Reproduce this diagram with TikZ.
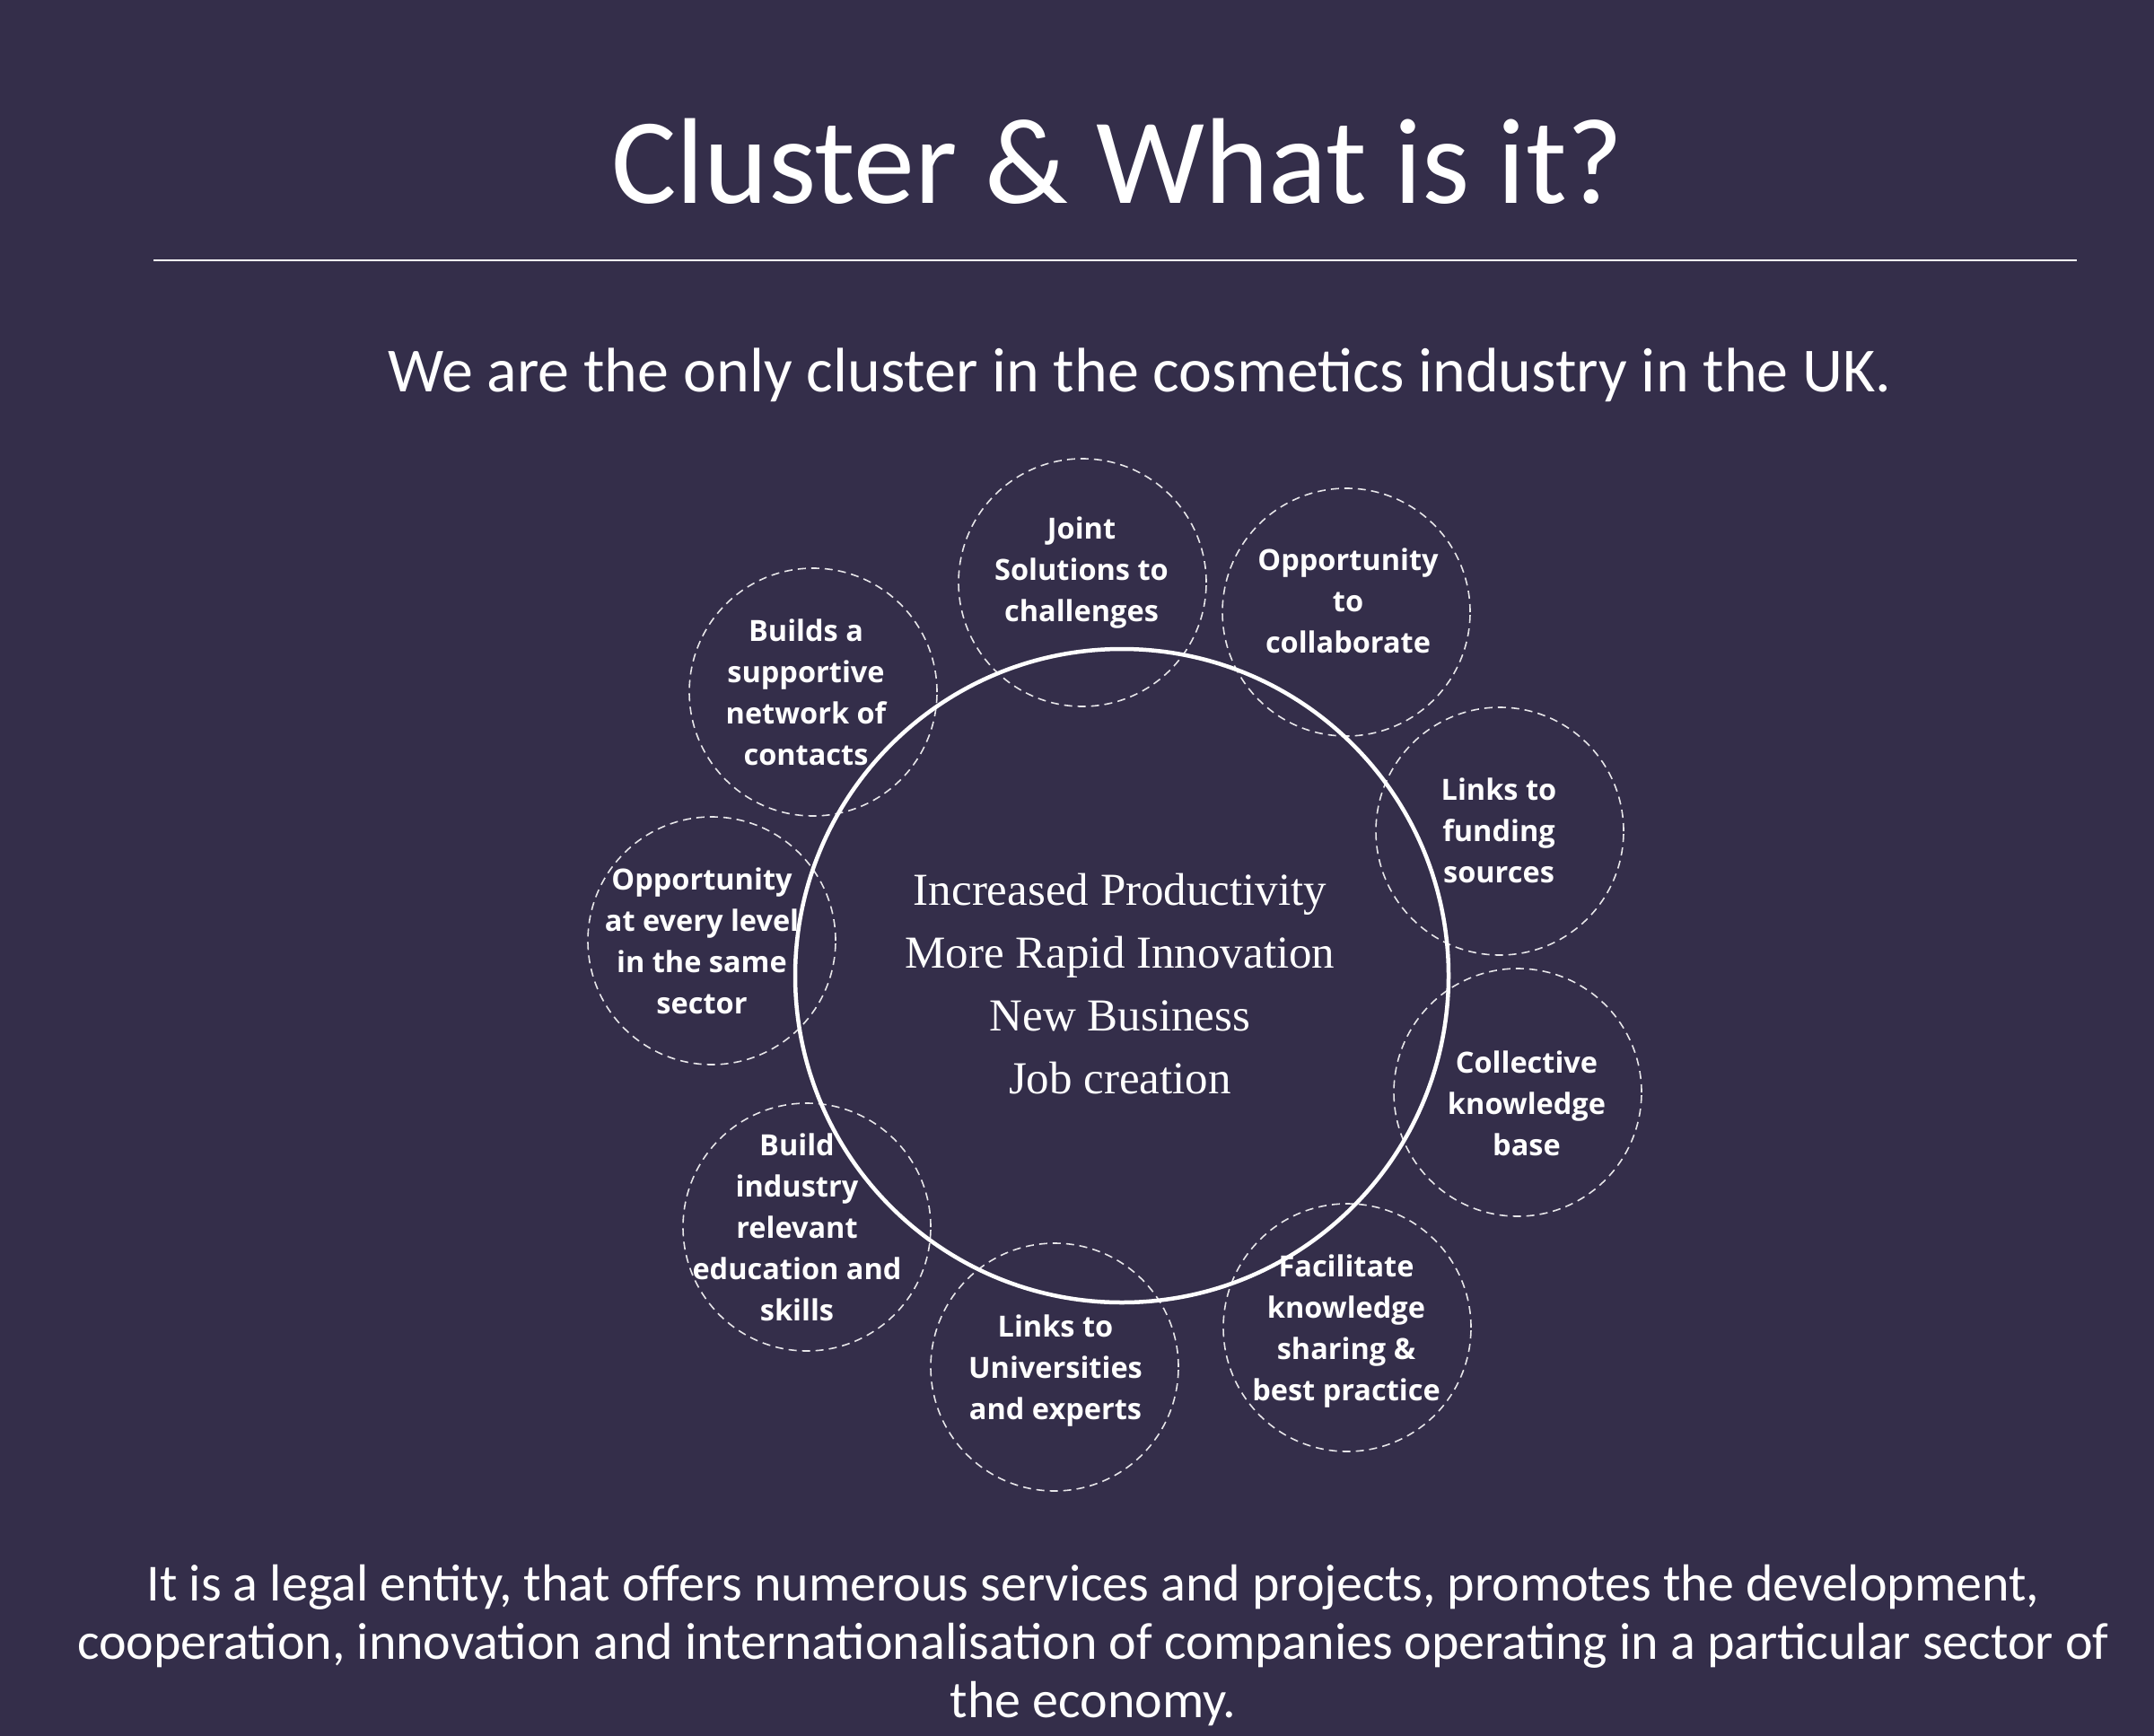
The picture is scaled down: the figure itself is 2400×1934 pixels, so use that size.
\documentclass[tikz,border=0pt]{standalone}
\usepackage{fontspec}
\setmainfont{Carlito}
\newfontfamily\lblfont{Open Sans}
\newfontfamily\serfont{Liberation Serif}
\definecolor{bg}{RGB}{52,46,74}
\tikzset{
  dcirc/.style={draw=white!88!bg, dash pattern=on 9pt off 6pt, line width=1.6pt, circle, minimum size=276pt, inner sep=0pt},
  lbl/.style={text=white, align=center, anchor=base, font=\lblfont\bfseries\fontsize{32.5}{46}\selectfont, inner sep=0pt},
}
\begin{document}
\begin{tikzpicture}[x=1pt,y=-1pt]
\fill[bg] (0,0) rectangle (2400,1934);
\useasboundingbox (0,0) rectangle (2400,1934);

\node[anchor=base, text=white, font=\fontsize{136}{160}\selectfont, inner sep=0pt] (title) at (1245,227) {Cluster \& What is it?};
\coordinate (rl) at (171,290);
\coordinate (rr) at (2314,290);
\draw[white, line width=2pt] (rl) -- (rr);
\node[anchor=base, text=white, font=\fontsize{70}{84}\selectfont, inner sep=0pt] (sub) at (1270,436) {We are the only cluster in the cosmetics industry in the UK.};

% dashed circles
\node[dcirc] (c1) at (1206,649) {};
\node[dcirc] (c2) at (1500,682) {};
\node[dcirc] (c3) at (1671,926) {};
\node[dcirc] (c4) at (1691,1217) {};
\node[dcirc] (c5) at (1501,1479) {};
\node[dcirc] (c6) at (1175,1523) {};
\node[dcirc] (c7) at (899,1367) {};
\node[dcirc] (c8) at (793,1048) {};
\node[dcirc] (c9) at (906,771) {};

% central circle
\node[draw=white, line width=4.5pt, circle, minimum size=728pt, inner sep=0pt] (core) at (1250,1087) {};
\node[text=white, align=center, font=\serfont\fontsize{51}{70}\selectfont, inner sep=0pt] (coretext) at (1248,1096)
  {Increased Productivity\\More Rapid Innovation\\New Business\\Job creation};

% labels (base anchor = baseline of the last line)
\node[lbl] (t1) at (1205,692) {Joint\\Solutions to\\challenges};
\node[lbl] (t2) at (1502,727) {Opportunity\\to\\collaborate};
\node[lbl] (t3) at (1670,983) {Links to\\funding\\sources};
\node[lbl] (t4) at (1701,1287) {Collective\\knowledge\\base};
\node[lbl] (t5) at (1500,1560) {Facilitate\\knowledge\\sharing \&\\best practice};
\node[lbl] (t6) at (1176,1581) {Links to\\Universities\\and experts};
\node[lbl] (t7) at (888,1471) {Build\\industry\\relevant\\education and\\skills};
\node[lbl] (t8) at (782,1129) {Opportunity\\at every level\\in the same\\sector};
\node[lbl] (t9) at (898,852) {Builds a\\supportive\\network of\\contacts};

% bottom text
\node[text=white, align=center, font=\fontsize{58}{65}\selectfont, inner sep=0pt, anchor=north] (foot) at (1218,1743)
  {It is a legal entity, that offers numerous services and projects, promotes the development,\\
   cooperation, innovation and internationalisation of companies operating in a particular sector of\\
   the economy.};
\end{tikzpicture}
\end{document}
